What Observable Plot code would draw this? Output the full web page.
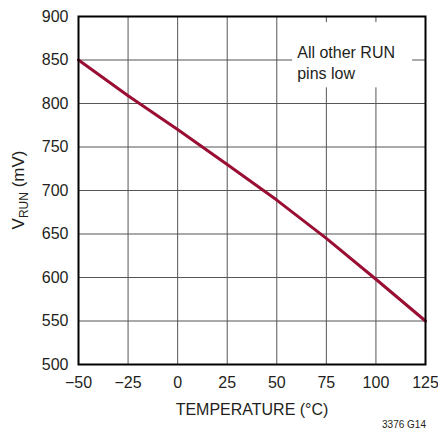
<!DOCTYPE html>
<html><head><meta charset="utf-8">
<script src="https://cdn.jsdelivr.net/npm/d3@7"></script>
<script src="https://cdn.jsdelivr.net/npm/@observablehq/plot@0.6"></script>
<style>body{margin:0;background:#fff}</style>
</head><body><div id="chart"></div>
<script>
const temperature = [-50, -25, 0, 25, 50, 75, 100, 125];
const vrun = [850, 809, 770, 730, 689, 645, 598, 550];
const xTicks = [-50, -25, 0, 25, 50, 75, 100, 125];
const yTicks = [500, 550, 600, 650, 700, 750, 800, 850, 900];
const noteText = ["All other RUN", "pins low"];
const noteBox = [{x1: 58, x2: 118.5, y1: 818, y2: 893}];
const notePos = [{t: 60.3, v: 869}];
const caption = "3376 G14";

const data = temperature.map((t, i) => ({t, v: vrun[i]}));
const font = '"Liberation Sans", Arial, sans-serif';
const minus = d => String(d).replace("-", "\u2212");
const ink = "#231f20";

const plot = Plot.plot({
  width: 438, height: 438,
  marginLeft: 78, marginRight: 13, marginTop: 16, marginBottom: 74,
  style: {fontFamily: font, fontSize: "16px", background: "#fff", color: ink},
  x: {domain: [-50, 125], ticks: xTicks, tickFormat: minus, tickSize: 0, tickPadding: 12,
      label: "TEMPERATURE (°C)", labelAnchor: "center", labelOffset: 50, labelArrow: "none"},
  y: {domain: [500, 900], ticks: yTicks, tickSize: 0, tickPadding: 10, label: null},
  marks: [
    Plot.gridX(xTicks, {stroke: "#555", strokeOpacity: 1, strokeWidth: 1}),
    Plot.gridY(yTicks, {stroke: "#555", strokeOpacity: 1, strokeWidth: 1}),
    Plot.rect(noteBox, {x1: "x1", x2: "x2", y1: "y1", y2: "y2", fill: "#fff"}),
    Plot.text(notePos, {x: "t", y: "v", text: () => noteText.join("\n"), textAnchor: "start",
      lineAnchor: "top", lineHeight: 1.3, fontSize: 16, fill: ink}),
    Plot.line(data, {x: "t", y: "v", stroke: "#990e32", strokeWidth: 3}),
    Plot.frame({stroke: "#000", strokeWidth: 2})
  ]
});

const svg = d3.select(plot);
svg.selectAll("[aria-label='x-axis label'], [aria-label='x-axis label'] text").attr("font-size", 16);
const yl = svg.append("text")
  .attr("transform", "translate(24,190) rotate(-90)")
  .attr("text-anchor", "middle")
  .attr("font-size", 17)
  .attr("fill", ink);
yl.append("tspan").text("V");
yl.append("tspan").attr("font-size", 12).attr("dy", 4).text("RUN");
yl.append("tspan").attr("dy", -4).text(" (mV)");
svg.append("text")
  .attr("x", 426).attr("y", 428)
  .attr("text-anchor", "end")
  .attr("font-size", 10)
  .attr("fill", ink)
  .text(caption);

document.getElementById("chart").appendChild(plot);
</script>
</body></html>
